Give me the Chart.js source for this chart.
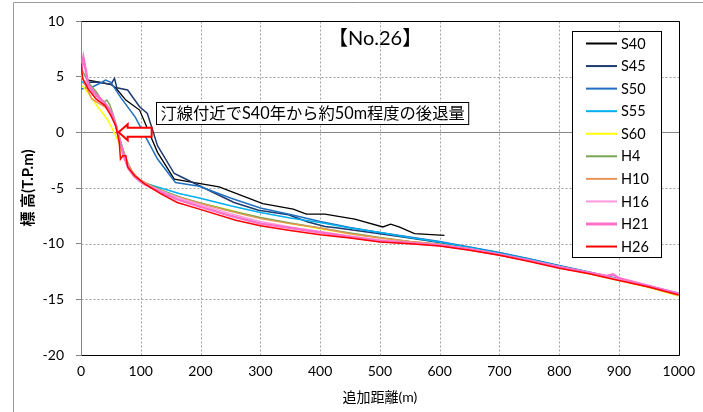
<!DOCTYPE html>
<html>
<head>
<meta charset="utf-8">
<script src="https://cdn.jsdelivr.net/npm/chart.js@4.4.1/dist/chart.umd.min.js"></script>
<style>
  html, body { margin: 0; padding: 0; background: #fff; }
  #wrap { position: relative; width: 703px; height: 412px; }
</style>
</head>
<body>
<div id="wrap"><canvas id="profile" width="703" height="412"></canvas></div>
<script>
  // survey years, in legend order
  const SURVEYS = ["S40", "S45", "S50", "S55", "S60", "H4", "H10", "H16", "H21", "H26"];

  // [distance (m), elevation (T.P.m)]
  const S40 = [[10, 4.7], [50, 4.3], [58, 4.0], [75, 2.9], [98, 2.0], [128, -1.8], [156, -4.2], [231, -4.9],
    [304, -6.4], [355, -6.9], [377, -7.35], [408, -7.35], [458, -7.8], [505, -8.5], [518, -8.25], [532, -8.5],
    [558, -9.1], [608, -9.25]];
  const S45 = [[10, 4.5], [30, 4.5], [50, 4.3], [56, 4.85], [60, 4.0], [78, 3.8], [98, 2.3], [111, 1.7],
    [128, -1.2], [156, -3.7], [164, -3.9], [198, -4.8], [256, -6.3], [297, -7.0], [347, -7.4], [380, -8.05],
    [408, -8.45], [430, -8.6], [500, -9.1], [550, -9.5], [600, -9.9], [650, -10.35], [700, -10.85],
    [750, -11.4], [800, -12.0], [850, -12.6], [900, -13.2], [950, -13.85], [1000, -14.55]];
  const S50 = [[0, 3.9], [20, 4.1], [35, 4.5], [41, 4.7], [50, 4.5], [57, 3.9], [67, 3.1], [91, 1.35],
    [111, -0.7], [128, -2.4], [158, -4.5], [198, -4.85], [250, -5.9], [300, -6.8], [352, -7.4], [400, -8.0],
    [450, -8.55], [500, -9.0], [550, -9.4], [600, -9.8], [650, -10.3], [700, -10.8], [750, -11.35],
    [800, -11.95], [850, -12.55], [900, -13.15], [950, -13.8], [1000, -14.45]];
  const S55 = [[0, 4.6], [10, 4.2], [25, 3.3], [40, 2.6], [52, 1.6], [60, 0.3], [68, -1.2], [76, -2.6],
    [86, -3.7], [98, -4.4], [103, -4.5], [164, -5.5], [198, -5.9], [250, -6.6], [300, -7.2], [350, -7.7],
    [400, -8.1], [450, -8.6], [500, -9.0], [550, -9.45], [600, -9.85], [650, -10.35], [700, -10.85],
    [750, -11.4], [800, -12.0], [850, -12.6], [900, -13.2], [950, -13.85], [1000, -14.5]];
  const S60 = [[2, 4.2], [15, 3.3], [28, 2.3], [45, 1.1], [59, -0.4], [76, -2.8], [87, -3.9], [100, -4.4],
    [120, -4.9], [145, -5.5], [194, -6.3], [250, -7.0], [300, -7.7], [350, -8.2], [400, -8.65], [450, -9.1],
    [500, -9.5], [550, -9.85], [600, -10.1], [650, -10.5], [700, -11.0], [750, -11.55], [800, -12.15],
    [850, -12.7], [900, -13.3], [950, -13.95], [1000, -14.7]];
  const H4 = [[0, 5.8], [12, 4.5], [26, 3.6], [33, 3.0], [38, 2.7], [43, 2.9], [48, 2.5], [55, 1.4], [62, 0.0],
    [70, -1.5], [78, -2.7], [86, -3.6], [96, -4.2], [110, -4.6], [140, -5.3], [170, -5.9], [200, -6.35],
    [250, -7.05], [300, -7.65], [350, -8.15], [400, -8.6], [450, -9.05], [500, -9.45], [550, -9.8],
    [600, -10.05], [650, -10.45], [700, -10.95], [750, -11.5], [800, -12.1], [850, -12.65], [900, -13.25],
    [950, -13.9], [1000, -14.6]];
  const H10 = [[0, 5.2], [6, 4.4], [18, 3.0], [30, 2.6], [45, 2.1], [55, 1.0], [63, -0.3], [70, -1.6],
    [78, -2.8], [88, -3.7], [100, -4.3], [120, -4.9], [150, -5.6], [200, -6.4], [250, -7.1], [300, -7.75],
    [350, -8.2], [400, -8.6], [450, -9.1], [500, -9.5], [550, -9.8], [600, -10.05], [650, -10.45],
    [700, -10.95], [750, -11.5], [800, -12.1], [850, -12.65], [900, -13.25], [950, -13.9], [1000, -14.65]];
  const H16 = [[0, 5.0], [8, 4.5], [15, 3.8], [28, 3.1], [42, 2.5], [52, 1.6], [60, 0.3], [67, -1.2],
    [75, -2.6], [84, -3.6], [95, -4.2], [110, -4.7], [140, -5.4], [170, -6.0], [200, -6.5], [250, -7.3],
    [300, -8.0], [350, -8.5], [400, -8.9], [450, -9.3], [500, -9.65], [550, -9.9], [600, -10.1],
    [650, -10.45], [700, -10.95], [750, -11.5], [800, -12.05], [850, -12.6], [900, -13.2], [950, -13.8],
    [1000, -14.55]];
  const H21 = [[0, 5.3], [4, 6.7], [8, 5.6], [12, 4.3], [25, 3.4], [40, 2.6], [50, 1.9], [58, 0.7],
    [65, -0.8], [72, -2.2], [80, -3.3], [90, -4.0], [104, -4.6], [130, -5.3], [160, -6.0], [200, -6.7],
    [250, -7.5], [300, -8.2], [350, -8.6], [400, -9.0], [450, -9.4], [500, -9.75], [550, -9.95],
    [600, -10.15], [650, -10.5], [700, -11.0], [750, -11.5], [800, -12.1], [850, -12.6], [880, -12.9],
    [890, -12.75], [900, -13.1], [950, -13.8], [1000, -14.5]];
  const H26 = [[0, 6.2], [3, 4.8], [12, 3.9], [25, 3.0], [40, 2.4], [50, 1.5], [58, 0.6], [64, -0.9],
    [66, -2.4], [70, -2.1], [75, -2.1], [78, -3.1], [90, -3.9], [106, -4.6], [133, -5.5], [161, -6.3],
    [198, -6.9], [259, -7.9], [300, -8.4], [347, -8.8], [400, -9.2], [450, -9.5], [500, -9.85],
    [550, -10.0], [600, -10.2], [650, -10.6], [700, -11.05], [750, -11.6], [800, -12.2], [850, -12.7],
    [900, -13.3], [950, -13.9], [1000, -14.6]];

  const PROFILES = [S40, S45, S50, S55, S60, H4, H10, H16, H21, H26];

  const X_RANGE = [0, 1000];
  const Y_RANGE = [-20, 10];

  const COLORS = ["#000000", "#1f3a6e", "#1f70c1", "#00b0f0", "#ffff00", "#7aa654", "#e8955a", "#ff99dd", "#ff70c8", "#ff0000"];
  const WIDTHS = [1.3, 1.5, 1.5, 1.5, 1.5, 1.5, 1.5, 1.5, 2.5, 1.5];

  const FONT = "Lato, 'Noto Sans CJK JP', sans-serif";
  const GRID = "#a0a0a0";

  const datasets = SURVEYS.map((name, i) => ({
    label: name,
    data: PROFILES[i].map(([x, y]) => ({ x, y })),
    borderColor: COLORS[i],
    backgroundColor: COLORS[i],
    borderWidth: WIDTHS[i],
    pointRadius: 0,
    showLine: true,
    fill: false,
    tension: 0,
    order: SURVEYS.length - i,
  }));

  const framePlugin = {
    id: "frame",
    beforeDraw(chart) {
      const { ctx } = chart;
      ctx.save();
      ctx.strokeStyle = "#9a9a9a";
      ctx.lineWidth = 1;
      ctx.beginPath();
      ctx.moveTo(13.5, 412);
      ctx.lineTo(13.5, 2.5);
      ctx.lineTo(703, 2.5);
      ctx.stroke();
      ctx.restore();
    },
    beforeDatasetsDraw(chart) {
      const { ctx, chartArea: a, scales } = chart;
      const L = Math.round(a.left) + 0.5, R = Math.round(a.right) + 0.5;
      const T = Math.round(a.top) + 0.5, B = Math.round(a.bottom) + 0.5;
      ctx.save();
      ctx.lineWidth = 1;

      // dashed grid
      ctx.strokeStyle = GRID;
      ctx.setLineDash([2, 2]);
      ctx.beginPath();
      scales.x.ticks.forEach((t) => {
        const px = Math.round(scales.x.getPixelForValue(t.value)) + 0.5;
        ctx.moveTo(px, T);
        ctx.lineTo(px, B);
      });
      scales.y.ticks.forEach((t) => {
        if (t.value === 0) return;
        const py = Math.round(scales.y.getPixelForValue(t.value)) + 0.5;
        ctx.moveTo(L, py);
        ctx.lineTo(R, py);
      });
      ctx.stroke();
      ctx.setLineDash([]);

      // horizontal axis at 0
      const p0 = Math.round(scales.y.getPixelForValue(0)) + 0.5;
      ctx.strokeStyle = "#868686";
      ctx.beginPath();
      ctx.moveTo(L, p0);
      ctx.lineTo(R, p0);
      ctx.stroke();

      // plot area border
      ctx.strokeStyle = "#000";
      ctx.beginPath();
      ctx.moveTo(L, T);
      ctx.lineTo(R, T);
      ctx.lineTo(R, B);
      ctx.lineTo(L, B);
      ctx.stroke();
      ctx.strokeStyle = "#868686";
      ctx.beginPath();
      ctx.moveTo(L, T);
      ctx.lineTo(L, B);
      ctx.stroke();
      ctx.restore();
    },
  };

  const overlayPlugin = {
    id: "overlay",
    afterDatasetsDraw(chart) {
      const { ctx, scales } = chart;
      const xs = scales.x;
      const ys = scales.y;
      ctx.save();

      // title
      ctx.fillStyle = "#000";
      ctx.font = "20px " + FONT;
      ctx.textAlign = "center";
      ctx.textBaseline = "middle";
      ctx.fillText("【No.26】", xs.getPixelForValue(492), ys.getPixelForValue(8.4));

      // note box
      const note = "汀線付近でS40年から約50m程度の後退量";
      ctx.font = "16.3px " + FONT;
      const tw = ctx.measureText(note).width;
      const bx = Math.round(xs.getPixelForValue(125)) + 0.5;
      const by = Math.round(ys.getPixelForValue(2.7)) + 0.5;
      ctx.fillStyle = "#fff";
      ctx.fillRect(bx, by, tw + 8, 22);
      ctx.strokeStyle = "#000";
      ctx.lineWidth = 1;
      ctx.strokeRect(bx, by, tw + 8, 22);
      ctx.fillStyle = "#000";
      ctx.textAlign = "left";
      ctx.fillText(note, bx + 4, by + 11.5);

      // arrow pointing to shoreline
      const tx = xs.getPixelForValue(63);
      const ty = ys.getPixelForValue(0);
      ctx.beginPath();
      ctx.moveTo(tx, ty);
      ctx.lineTo(tx + 9, ty - 8);
      ctx.lineTo(tx + 9, ty - 4.5);
      ctx.lineTo(tx + 33, ty - 4.5);
      ctx.lineTo(tx + 33, ty + 4.5);
      ctx.lineTo(tx + 9, ty + 4.5);
      ctx.lineTo(tx + 9, ty + 8);
      ctx.closePath();
      ctx.fillStyle = "#fff";
      ctx.fill();
      ctx.strokeStyle = "#ff0000";
      ctx.lineWidth = 2;
      ctx.stroke();

      // legend
      const lx = 572.5, ly = 31.5, lw = 89, lh = 226;
      ctx.fillStyle = "#fff";
      ctx.fillRect(lx, ly, lw, lh);
      ctx.strokeStyle = "#000";
      ctx.lineWidth = 1;
      ctx.strokeRect(lx, ly, lw, lh);
      ctx.font = "14.5px " + FONT;
      ctx.textBaseline = "middle";
      chart.data.datasets.forEach((ds, i) => {
        const ry = 43.5 + i * 22.56;
        ctx.strokeStyle = ds.borderColor;
        ctx.lineWidth = i === 8 ? 3 : 2;
        ctx.beginPath();
        ctx.moveTo(586, ry);
        ctx.lineTo(617, ry);
        ctx.stroke();
        ctx.fillStyle = "#000";
        ctx.fillText(ds.label, 621, ry + 0.5);
      });

      ctx.restore();
    },
  };

  new Chart(document.getElementById("profile"), {
    type: "scatter",
    data: { datasets },
    plugins: [framePlugin, overlayPlugin],
    options: {
      responsive: false,
      animation: false,
      events: [],
      layout: { padding: { top: 21, right: 20, bottom: 0, left: 0 } },
      plugins: {
        legend: { display: false },
        tooltip: { enabled: false },
      },
      scales: {
        x: {
          type: "linear",
          min: X_RANGE[0],
          max: X_RANGE[1],
          ticks: {
            stepSize: 100,
            color: "#000",
            padding: 8,
            maxRotation: 0,
            font: { family: FONT, size: 14 },
            callback: (v) => String(v),
          },
          grid: { drawOnChartArea: false, drawTicks: false },
          border: { display: false },
          title: {
            display: true,
            text: "追加距離(m)",
            color: "#000",
            font: { family: FONT, size: 14 },
            padding: { top: 0, bottom: 6 },
          },
          afterFit(scale) { scale.height = 57; },
        },
        y: {
          type: "linear",
          min: Y_RANGE[0],
          max: Y_RANGE[1],
          ticks: {
            stepSize: 5,
            color: "#000",
            padding: 12,
            font: { family: FONT, size: 14 },
            callback: (v) => String(v),
          },
          grid: { drawOnChartArea: false, tickColor: "#868686", tickLength: 5 },
          border: { display: false },
          title: {
            display: true,
            text: "標 高(T.P.m)",
            color: "#000",
            font: { family: FONT, size: 15, weight: "bold" },
            padding: { top: 19, bottom: 0 },
          },
          afterFit(scale) { scale.width = 81; },
        },
      },
    },
  });
</script>
</body>
</html>
